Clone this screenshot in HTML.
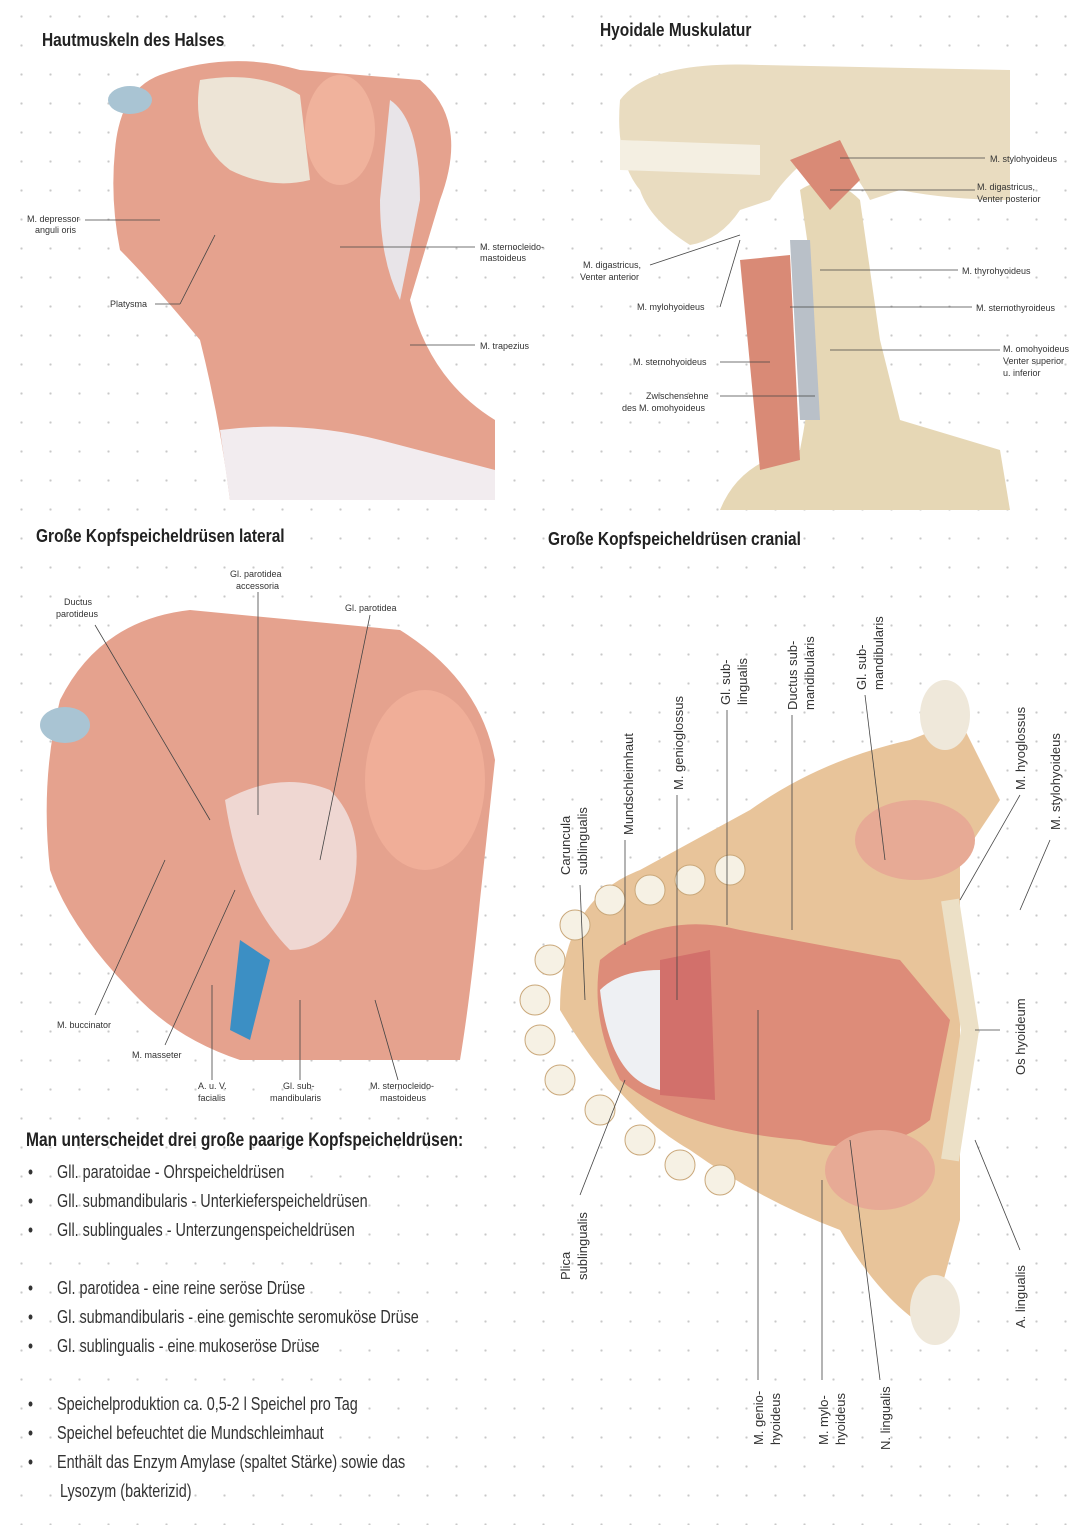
<!DOCTYPE html>
<html><head><meta charset="utf-8"><style>
html,body{margin:0;padding:0;background:#fff}
body{width:1080px;height:1525px;position:relative;overflow:hidden;
background-image:radial-gradient(circle,#c8c8c8 1px,transparent 1.3px);background-size:29px 29px;background-position:7px 2px}
.t{position:absolute;font-family:"Liberation Sans",sans-serif;color:#222;white-space:nowrap;transform-origin:0 0}
.h{font-weight:bold;font-size:18px;transform:scaleX(0.86)}
.b{font-size:18px;color:#333;transform:scaleX(0.8)}
svg{position:absolute;left:0;top:0}
</style></head><body>
<svg width="1080" height="1525" viewBox="0 0 1080 1525" font-family="Liberation Sans, sans-serif">
<!-- Panel 1 -->
<path d="M160 75 Q230 50 300 70 L420 80 Q470 120 440 200 L410 300 Q430 380 495 420 L495 500 L230 500 Q220 420 200 340 Q150 280 120 250 Q110 200 115 150 Q120 90 160 75Z" fill="#e5a28e"/>
<path d="M200 80 Q260 70 300 95 L310 180 Q270 190 230 170 Q190 140 200 80Z" fill="#ede4d6"/>
<path d="M220 430 Q300 420 380 440 L495 470 L495 500 L230 500Z" fill="#f2ecef"/>
<ellipse cx="340" cy="130" rx="35" ry="55" fill="#f0b29c"/>
<path d="M390 100 Q420 120 420 200 L400 300 Q380 260 380 200Z" fill="#e8e4e8"/>
<ellipse cx="130" cy="100" rx="22" ry="14" fill="#a9c4d3"/>
<!-- Panel 2 -->
<path d="M620 100 Q650 60 760 65 L1010 70 L1010 200 Q950 200 900 190 L870 200 Q850 160 820 150 Q790 170 770 200 L740 210 Q720 240 690 245 Q650 220 640 190 Q615 160 620 100Z" fill="#e9dcc0"/>
<path d="M620 140 L760 145 L760 175 L620 170Z" fill="#f4efe2"/>
<path d="M800 190 Q830 170 860 200 L880 340 L900 420 L1000 450 L1010 510 L720 510 Q740 460 800 450 Q820 350 810 260Z" fill="#e6d7b5"/>
<path d="M740 260 L790 255 L800 460 L760 470Z" fill="#d98a76"/>
<path d="M790 240 L810 240 L820 420 L800 420Z" fill="#b9c0c8"/>
<path d="M790 160 L840 140 L860 180 L830 210Z" fill="#d98a76"/>
<!-- Panel 3 -->
<path d="M60 700 Q100 620 190 610 L400 630 Q480 680 495 760 L480 900 Q470 1000 460 1060 L240 1060 Q180 1040 140 1000 Q70 930 50 870 Q40 780 60 700Z" fill="#e5a28e"/>
<path d="M225 800 Q280 770 330 790 Q370 830 350 900 Q330 950 290 950 Q240 900 225 800Z" fill="#efd7d2"/>
<ellipse cx="425" cy="780" rx="60" ry="90" fill="#f0ae98"/>
<ellipse cx="65" cy="725" rx="25" ry="18" fill="#a9c4d3"/>
<path d="M240 940 L270 960 L250 1040 L230 1030Z" fill="#3c8fc4"/>
<!-- Panel 4 -->
<path d="M560 1010 Q560 900 640 870 L750 810 Q820 760 910 740 L960 720 L1000 800 L960 860 L960 1140 L960 1220 L930 1330 Q880 1300 840 1230 Q760 1200 690 1150 Q620 1110 560 1010Z" fill="#e8c49a"/>
<path d="M600 960 Q660 910 740 930 L900 960 L950 1020 L930 1120 Q880 1160 800 1140 Q680 1130 620 1080 Q590 1020 600 960Z" fill="#dd8c79"/>
<path d="M660 960 L710 950 L715 1100 L660 1095Z" fill="#d2706b"/>
<path d="M600 990 Q620 970 660 970 L660 1090 Q610 1080 600 990Z" fill="#eef0f3"/>
<ellipse cx="915" cy="840" rx="60" ry="40" fill="#e7aa95"/>
<ellipse cx="880" cy="1170" rx="55" ry="40" fill="#e7aa95"/>
<ellipse cx="945" cy="715" rx="25" ry="35" fill="#efe8da"/>
<ellipse cx="935" cy="1310" rx="25" ry="35" fill="#efe8da"/>
<path d="M950 900 L970 1030 L950 1160" stroke="#ece0c6" stroke-width="18" fill="none"/>
<g fill="#f6f1e4" stroke="#caa87a">
<circle cx="535" cy="1000" r="15"/><circle cx="540" cy="1040" r="15"/><circle cx="550" cy="960" r="15"/><circle cx="575" cy="925" r="15"/><circle cx="610" cy="900" r="15"/><circle cx="650" cy="890" r="15"/><circle cx="690" cy="880" r="15"/><circle cx="730" cy="870" r="15"/>
<circle cx="560" cy="1080" r="15"/><circle cx="600" cy="1110" r="15"/><circle cx="640" cy="1140" r="15"/><circle cx="680" cy="1165" r="15"/><circle cx="720" cy="1180" r="15"/>
</g>
<g stroke="#444" stroke-width="0.8" fill="none">
<line x1="85" y1="220" x2="160" y2="220"/><line x1="155" y1="304" x2="180" y2="304"/><line x1="180" y1="304" x2="215" y2="235"/>
<line x1="340" y1="247" x2="475" y2="247"/><line x1="410" y1="345" x2="475" y2="345"/>
<line x1="840" y1="158" x2="985" y2="158"/><line x1="830" y1="190" x2="975" y2="190"/><line x1="650" y1="265" x2="740" y2="235"/>
<line x1="720" y1="307" x2="740" y2="240"/><line x1="820" y1="270" x2="958" y2="270"/><line x1="790" y1="307" x2="972" y2="307"/>
<line x1="720" y1="362" x2="770" y2="362"/><line x1="830" y1="350" x2="1000" y2="350"/><line x1="720" y1="396" x2="815" y2="396"/>
<line x1="258" y1="592" x2="258" y2="815"/><line x1="370" y1="615" x2="320" y2="860"/><line x1="95" y1="625" x2="210" y2="820"/>
<line x1="95" y1="1015" x2="165" y2="860"/><line x1="165" y1="1045" x2="235" y2="890"/><line x1="212" y1="1080" x2="212" y2="985"/>
<line x1="300" y1="1080" x2="300" y2="1000"/><line x1="398" y1="1080" x2="375" y2="1000"/>
<line x1="580" y1="885" x2="585" y2="1000"/><line x1="625" y1="840" x2="625" y2="945"/><line x1="677" y1="795" x2="677" y2="1000"/>
<line x1="727" y1="710" x2="727" y2="925"/><line x1="792" y1="715" x2="792" y2="930"/><line x1="865" y1="695" x2="885" y2="860"/>
<line x1="1020" y1="795" x2="960" y2="900"/><line x1="1050" y1="840" x2="1020" y2="910"/><line x1="975" y1="1030" x2="1000" y2="1030"/>
<line x1="580" y1="1195" x2="625" y2="1080"/><line x1="1020" y1="1250" x2="975" y2="1140"/>
<line x1="758" y1="1380" x2="758" y2="1010"/><line x1="822" y1="1380" x2="822" y2="1180"/><line x1="880" y1="1380" x2="850" y2="1140"/>
</g>
<g font-size="9" fill="#333">
<text x="27" y="222">M. depressor</text><text x="35" y="233">anguli oris</text>
<text x="110" y="307">Platysma</text>
<text x="480" y="250">M. sternocleido-</text><text x="480" y="261">mastoideus</text>
<text x="480" y="349">M. trapezius</text>
<text x="990" y="162">M. stylohyoideus</text>
<text x="977" y="190">M. digastricus,</text><text x="977" y="202">Venter posterior</text>
<text x="583" y="268">M. digastricus,</text><text x="580" y="280">Venter anterior</text>
<text x="637" y="310">M. mylohyoideus</text>
<text x="962" y="274">M. thyrohyoideus</text>
<text x="976" y="311">M. sternothyroideus</text>
<text x="633" y="365">M. sternohyoideus</text>
<text x="1003" y="352">M. omohyoideus</text><text x="1003" y="364">Venter superior</text><text x="1003" y="376">u. inferior</text>
<text x="646" y="399">Zwischensehne</text><text x="622" y="411">des M. omohyoideus</text>
<text x="230" y="577">Gl. parotidea</text><text x="236" y="589">accessoria</text>
<text x="345" y="611">Gl. parotidea</text>
<text x="64" y="605">Ductus</text><text x="56" y="617">parotideus</text>
<text x="57" y="1028">M. buccinator</text>
<text x="132" y="1058">M. masseter</text>
<text x="198" y="1089">A. u. V.</text><text x="198" y="1101">facialis</text>
<text x="283" y="1089">Gl. sub-</text><text x="270" y="1101">mandibularis</text>
<text x="370" y="1089">M. sternocleido-</text><text x="380" y="1101">mastoideus</text>
</g>
<g font-size="13" fill="#333">
<text transform="translate(570,875) rotate(-90)">Caruncula</text><text transform="translate(587,875) rotate(-90)">sublingualis</text>
<text transform="translate(633,835) rotate(-90)">Mundschleimhaut</text>
<text transform="translate(683,790) rotate(-90)">M. genioglossus</text>
<text transform="translate(730,705) rotate(-90)">Gl. sub-</text><text transform="translate(747,705) rotate(-90)">lingualis</text>
<text transform="translate(797,710) rotate(-90)">Ductus sub-</text><text transform="translate(814,710) rotate(-90)">mandibularis</text>
<text transform="translate(866,690) rotate(-90)">Gl. sub-</text><text transform="translate(883,690) rotate(-90)">mandibularis</text>
<text transform="translate(1025,790) rotate(-90)">M. hyoglossus</text>
<text transform="translate(1060,830) rotate(-90)">M. stylohyoideus</text>
<text transform="translate(1025,1075) rotate(-90)">Os hyoideum</text>
<text transform="translate(570,1280) rotate(-90)">Plica</text><text transform="translate(587,1280) rotate(-90)">sublingualis</text>
<text transform="translate(1025,1328) rotate(-90)">A. lingualis</text>
<text transform="translate(763,1445) rotate(-90)">M. genio-</text><text transform="translate(780,1445) rotate(-90)">hyoideus</text>
<text transform="translate(828,1445) rotate(-90)">M. mylo-</text><text transform="translate(845,1445) rotate(-90)">hyoideus</text>
<text transform="translate(890,1450) rotate(-90)">N. lingualis</text>
</g>
</svg>
<div class="t h" style="left:42px;top:30px">Hautmuskeln des Halses</div>
<div class="t h" style="left:600px;top:20px">Hyoidale Muskulatur</div>
<div class="t h" style="left:36px;top:526px">Große Kopfspeicheldrüsen lateral</div>
<div class="t h" style="left:548px;top:529px">Große Kopfspeicheldrüsen cranial</div>
<div class="t h" style="left:26px;top:1130px;font-size:19px;transform:scaleX(0.82)">Man unterscheidet drei große paarige Kopfspeicheldrüsen:</div>
<div class="t b" style="left:28px;top:1158px;line-height:29px">
•&nbsp;&nbsp;&nbsp;&nbsp;&nbsp;&nbsp;Gll. paratoidae - Ohrspeicheldrüsen<br>
•&nbsp;&nbsp;&nbsp;&nbsp;&nbsp;&nbsp;Gll. submandibularis - Unterkieferspeicheldrüsen<br>
•&nbsp;&nbsp;&nbsp;&nbsp;&nbsp;&nbsp;Gll. sublinguales - Unterzungenspeicheldrüsen<br><br>
•&nbsp;&nbsp;&nbsp;&nbsp;&nbsp;&nbsp;Gl. parotidea - eine reine seröse Drüse<br>
•&nbsp;&nbsp;&nbsp;&nbsp;&nbsp;&nbsp;Gl. submandibularis - eine gemischte seromuköse Drüse<br>
•&nbsp;&nbsp;&nbsp;&nbsp;&nbsp;&nbsp;Gl. sublingualis - eine mukoseröse Drüse<br><br>
•&nbsp;&nbsp;&nbsp;&nbsp;&nbsp;&nbsp;Speichelproduktion ca. 0,5-2 l Speichel pro Tag<br>
•&nbsp;&nbsp;&nbsp;&nbsp;&nbsp;&nbsp;Speichel befeuchtet die Mundschleimhaut<br>
•&nbsp;&nbsp;&nbsp;&nbsp;&nbsp;&nbsp;Enthält das Enzym Amylase (spaltet Stärke) sowie das<br>
&nbsp;&nbsp;&nbsp;&nbsp;&nbsp;&nbsp;&nbsp;&nbsp;Lysozym (bakterizid)
</div>
</body></html>
